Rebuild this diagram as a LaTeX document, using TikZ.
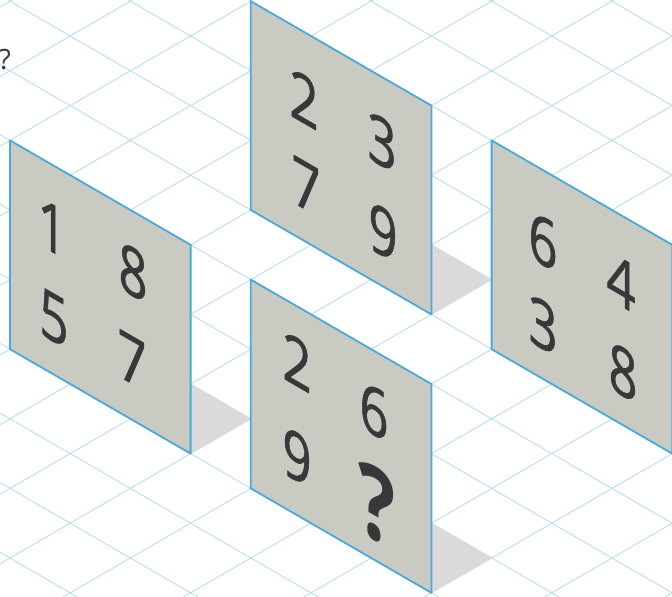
\documentclass[tikz,border=0pt]{standalone}
\usepackage{fontspec}
\setmainfont{Open Sans}
\newfontfamily\digitfont[FakeBold=1]{Open Sans}
\definecolor{gridblue}{HTML}{B4DBEE}
\definecolor{edgeblue}{HTML}{4BA8DA}
\definecolor{panelgray}{HTML}{C9CBC3}
\definecolor{shadowgray}{HTML}{DCD9DB}
\definecolor{digitgray}{HTML}{38383A}
\begin{document}
\begin{tikzpicture}[x=1pt,y=-1pt,
  gridline/.style={draw=gridblue,line width=0.8pt},
  panelbox/.style={fill=panelgray,draw=edgeblue,line width=1.8pt,line join=round},
  shadowbox/.style={fill=shadowgray},
  digit/.style={text=digitgray,inner sep=0pt,transform shape,
    cm={0.76,-0.4393,0,1,(0,0)},font=\digitfont\fontsize{67}{67}\selectfont},
  qmark/.style={digit,font=\bfseries\fontsize{102}{102}\selectfont}]
\useasboundingbox (0,0) rectangle (672,597);
\clip (0,0) rectangle (672,597);
\fill[white] (0,0) rectangle (672,597);
% isometric grid
\foreach \k in {-7,...,8}
  \draw[gridline] (0,{65.02+69.6*\k}) -- (672,{65.02+69.6*\k+388.46});
\foreach \k in {-1,...,13}
  \draw[gridline] (0,{76.58+69.6*\k}) -- (672,{76.58+69.6*\k-388.46});
% panels: bottom-left corner (x,yb)
\foreach \nm/\x/\yb in {L/10/349.2, C/250.8/210, B/250.8/488.4, R/491.6/349.2}{
  \coordinate (\nm-bl) at (\x,\yb);
  \coordinate (\nm-tl) at (\x,\yb-208.8);
  \coordinate (\nm-tr) at (\x+180.6,\yb-104.4);
  \coordinate (\nm-br) at (\x+180.6,\yb+104.4);
  \coordinate (\nm-sa) at (\x+180.6,\yb+34.8);
  \coordinate (\nm-sb) at (\x+240.8,\yb+69.6);
  \fill[shadowbox] (\nm-sa) -- (\nm-sb) -- (\nm-br) -- cycle;
  \draw[panelbox] (\nm-bl) -- (\nm-tl) -- (\nm-tr) -- (\nm-br) -- cycle;
}
% question mark at left edge
\node[text=digitgray,inner sep=0pt,font=\fontsize{28}{28}\selectfont] (q0) at (5,60) {?};
% left panel
\node[digit] (l1) at (52,228) {1};
\node[digit] (l2) at (133,272) {8};
\node[digit] (l3) at (54,318) {5};
\node[digit] (l4) at (132,360) {7};
% centre panel
\node[digit] (c1) at (304,99) {2};
\node[digit] (c2) at (382,142) {3};
\node[digit] (c3) at (306,186) {7};
\node[digit] (c4) at (383,232) {9};
% bottom panel
\node[digit] (b1) at (297,362) {2};
\node[digit] (b2) at (374,411) {6};
\node[digit] (b3) at (297,457) {9};
\node[qmark] (b4) at (377,505) {?};
% right panel
\node[digit] (r1) at (543,241) {6};
\node[digit] (r2) at (621,282) {4};
\node[digit] (r3) at (543,325) {3};
\node[digit] (r4) at (623,372) {8};
\end{tikzpicture}
\end{document}
